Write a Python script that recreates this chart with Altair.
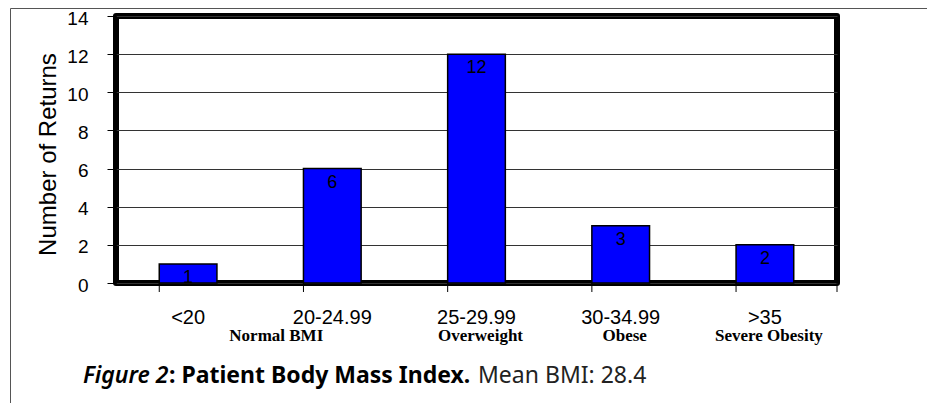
import altair as alt
import pandas as pd

# ---- data ----
categories = ["<20", "20-24.99", "25-29.99", "30-34.99", ">35"]
returns = [1, 6, 12, 3, 2]
groups = ["", "Normal BMI", "Overweight", "Obese", "Severe Obesity"]
y_ticks = [0, 2, 4, 6, 8, 10, 12, 14]
y_title = "Number of Returns"
caption_parts = ["Figure 2", ": Patient Body Mass Index.", "Mean BMI: 28.4"]

df = pd.DataFrame({"bmi": categories, "returns": returns, "group": groups})
one = pd.DataFrame({"k": [0]})

W, H = 721, 267
SANS = "Liberation Sans"
SERIF = "Liberation Serif"
CAP = "Noto Sans"

xscale = alt.Scale(domain=categories, paddingInner=0.6, paddingOuter=0.3)
yscale = alt.Scale(domain=[0, 14], nice=False)

xaxis = alt.Axis(title=None, domain=False, ticks=False, grid=False, labelAngle=0,
                 labelFont=SANS, labelFontSize=20, labelColor="black",
                 labelPadding=24)
yaxis = alt.Axis(values=y_ticks, title=y_title, grid=True, gridColor="#333333",
                 gridWidth=1, domain=False, tickColor="black", tickSize=9,
                 tickWidth=1, labelPadding=19, labelOffset=2, labelFont=SANS,
                 labelFontSize=19, labelColor="black", titleFont=SANS,
                 titleFontSize=24, titleFontWeight="normal", titleColor="black",
                 titleAngle=270, titleX=-68, titleY=138, titleAlign="center",
                 titleBaseline="middle")

X = alt.X("bmi:N", scale=xscale, axis=xaxis)
Y = alt.Y("returns:Q", scale=yscale, axis=yaxis)

base = alt.Chart(df)

bars = base.mark_bar(fill="#0000FF", stroke="black", strokeWidth=1.5).encode(x=X, y=Y)

band_ticks = base.mark_rule(color="black", strokeWidth=1).encode(
    x=alt.X("bmi:N", scale=xscale, axis=xaxis, bandPosition=0),
    y=alt.value(H), y2=alt.value(H + 9))
end_tick = alt.Chart(one).mark_rule(color="black", strokeWidth=1).encode(
    x=alt.value(W), y=alt.value(H), y2=alt.value(H + 9))

values = base.mark_text(baseline="top", dy=5, font=SANS, fontSize=18,
                        color="black").encode(x=X, y=Y, text="returns:Q")

sub_first = base.transform_filter(alt.datum.bmi == categories[1]).mark_text(
    font=SERIF, fontWeight="bold", fontSize=17, color="black", dx=-56,
    baseline="alphabetic").encode(x=X, y=alt.value(325), text="group:N")
sub_rest = base.transform_filter(
    (alt.datum.group != "") & (alt.datum.bmi != categories[1])).mark_text(
    font=SERIF, fontWeight="bold", fontSize=17, color="black", dx=4,
    baseline="alphabetic").encode(x=X, y=alt.value(325), text="group:N")

cap_df = pd.DataFrame({"t": caption_parts})
cap1 = alt.Chart(cap_df).transform_filter(alt.datum.t == caption_parts[0]).mark_text(
    align="left", baseline="alphabetic", font=CAP, fontSize=23, fontStyle="italic",
    fontWeight=600, color="black").encode(x=alt.value(-33), y=alt.value(367), text="t:N")
cap2 = alt.Chart(cap_df).transform_filter(alt.datum.t == caption_parts[1]).mark_text(
    align="left", baseline="alphabetic", font=CAP, fontSize=23, fontWeight="bold",
    color="black").encode(x=alt.value(53), y=alt.value(367), text="t:N")
cap3 = alt.Chart(cap_df).transform_filter(alt.datum.t == caption_parts[2]).mark_text(
    align="left", baseline="alphabetic", font=CAP, fontSize=23, fontWeight="normal",
    color="#222222").encode(x=alt.value(362), y=alt.value(367), text="t:N")

border_top = alt.Chart(one).mark_rule(color="#555555", strokeWidth=1).encode(
    x=alt.value(-105.5), x2=alt.value(W + 98), y=alt.value(-7.5))
border_left = alt.Chart(one).mark_rule(color="#555555", strokeWidth=1).encode(
    x=alt.value(-105.5), y=alt.value(-7.5), y2=alt.value(H + 120))

chart = alt.layer(
    border_top, border_left, bars, band_ticks, end_tick, values,
    sub_first, sub_rest, cap1, cap2, cap3
).properties(
    width=W, height=H, autosize="none",
    padding={"left": 108, "top": 8, "right": 90, "bottom": 120},
    background="white"
).configure_view(stroke="black", strokeWidth=6, strokeJoin="round")

chart.save("out.html", embed_options={"renderer": "svg", "actions": False})
